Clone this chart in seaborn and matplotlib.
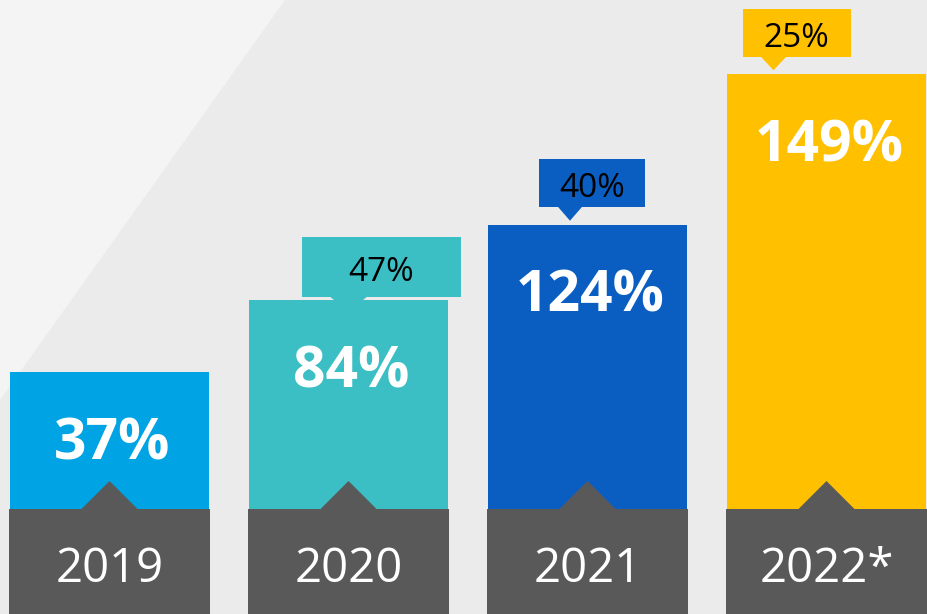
import pandas as pd
import matplotlib.pyplot as plt
import seaborn as sns
from matplotlib.patches import Polygon, Rectangle

# data
years = ['2019', '2020', '2021', '2022*']
total_growth = [37, 84, 124, 149]          # big white labels, %
yearly_growth = [None, 47, 40, 25]         # small callouts, %
bar_level = [39.4, 51.1, 63.4, 87.9]       # drawn bar height, % of chart height
colors = ['#00A3E3', '#3BBFC4', '#0B5EC1', '#FFC000']

df = pd.DataFrame({'year': years, 'level': bar_level})

sns.set_theme(style='white')
plt.rcParams['font.family'] = ['Open Sans', 'DejaVu Sans']

W, H = 927, 614
fig = plt.figure(figsize=(W / 100, H / 100), dpi=100)
fig.patch.set_facecolor('#EBEBEB')
ax = fig.add_axes([0, 0, 1, 1])
ax.set_facecolor('#EBEBEB')

step = 239                 # pixels between bar centres
px = 1 / step              # x units per pixel
py = 100 / H               # y units per pixel
x0 = -109.5 * px

# lighter diagonal band at the top left
ax.add_patch(Polygon([(x0, 100), (x0 + 285 * px, 100), (x0, 100 - 400 * py)],
                     closed=True, color='#F4F4F4', lw=0, zorder=0))

sns.barplot(data=df, x='year', y='level', hue='year', palette=colors,
            width=199 / step, saturation=1, legend=False, ax=ax,
            linewidth=0, edgecolor='none', zorder=1)

# dark footer with year labels
foot = 105 * py
ax.bar(range(len(years)), [foot] * len(years), width=201 / step,
       color='#595959', lw=0, zorder=2)
for i, yr in enumerate(years):
    ax.add_patch(Polygon([(i - 28 * px, foot), (i + 28 * px, foot), (i, foot + 28 * py)],
                         closed=True, color='#595959', lw=0, zorder=2))
    ax.text(i, 32 * py, yr, ha='center', va='baseline', color='white',
            fontsize=34, zorder=3)

# big totals inside the bars
for i, (lvl, v) in enumerate(zip(bar_level, total_growth)):
    ax.text(i + 3 * px, lvl - 87 * py, f'{v}%', ha='center', va='baseline', color='white',
            fontsize=41, fontweight='bold', zorder=3)

# callouts with year-on-year growth
box_left = [None, -46.5, -48.5, -84]
box_right = [None, 112.5, 57.5, 24]
box_gap = [None, 3, 18, 17]
box_h = [None, 60, 48, 48]
tip_dx = [None, 0, -17.5, -53]
for i, g in enumerate(yearly_growth):
    if g is None:
        continue
    top = bar_level[i]
    b = top + box_gap[i] * py
    ax.add_patch(Rectangle((i + box_left[i] * px, b), (box_right[i] - box_left[i]) * px,
                           box_h[i] * py, color=colors[i], lw=0, zorder=1.5))
    tip = top + 4 * py if box_gap[i] > 5 else top - 12 * py
    hw = 13 if box_gap[i] > 5 else 19
    cx = i + tip_dx[i] * px
    ax.add_patch(Polygon([(cx - hw * px, b + 1 * py), (cx + hw * px, b + 1 * py), (cx, tip)],
                         closed=True, color=colors[i], lw=0, zorder=0.8))
    mid = i + (box_left[i] + box_right[i]) / 2 * px
    ax.text(mid, b + box_h[i] / 2 * py - 14 * py, f'{g}%', ha='center', va='baseline',
            color='black', fontsize=24, zorder=3)

ax.set_xlim(x0, x0 + W * px)
ax.set_ylim(0, 100)
ax.set_axis_off()
fig.savefig('out.png', dpi=100, facecolor=fig.get_facecolor())
